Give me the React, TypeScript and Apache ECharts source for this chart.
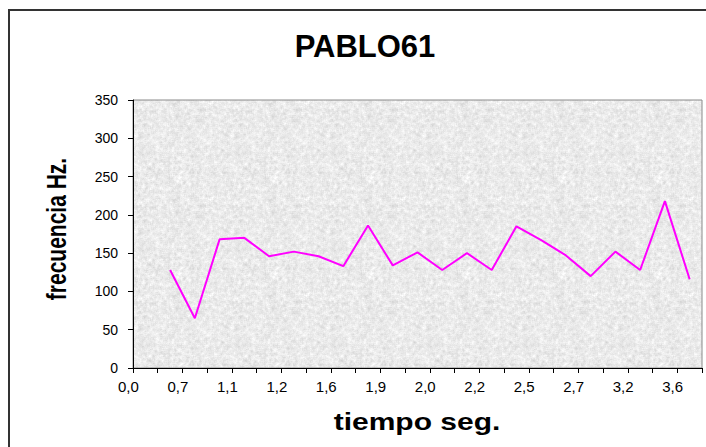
import React, { useEffect, useRef } from "react";
import * as echarts from "echarts";

// Category (time) labels; only every other one is shown on the axis
const categories: string[] = [
  "0,0", "0,5", "0,7", "0,9", "1,1", "1,1", "1,2", "1,4", "1,6", "1,7", "1,9", "1,9",
  "2,0", "2,1", "2,2", "2,4", "2,5", "2,6", "2,7", "2,9", "3,2", "3,4", "3,6",
];

// Frequency values (Hz) per category
const frecuencia: (number | null)[] = [
  null, 128, 65, 168, 170, 146, 152, 146, 133, 186, 134, 151,
  128, 150, 128, 185, 167, 147, 120, 152, 128, 218, 116,
];

const yMin = 0;
const yMax = 350;
const yStep = 50;

const chartTitle = "PABLO61";
const xTitle = "tiempo seg.";
const yTitle = "frecuencia Hz.";

// deterministic grain texture for the plot background (pure decoration)
function makeTexture(): string {
  const size = 96;
  const c = document.createElement("canvas");
  c.width = size;
  c.height = size;
  const ctx = c.getContext("2d");
  if (!ctx) return "";
  const img = ctx.createImageData(size, size);
  const h = (x: number, y: number) => {
    const xx = ((x % size) + size) % size;
    const yy = ((y % size) + size) % size;
    const s = Math.sin(xx * 12.9898 + yy * 78.233) * 43758.5453;
    return s - Math.floor(s);
  };
  for (let y = 0; y < size; y++) {
    for (let x = 0; x < size; x++) {
      let acc = 0;
      for (let dy = -1; dy <= 1; dy++)
        for (let dx = -1; dx <= 1; dx++) acc += h(x + dx, y + dy);
      acc /= 9;
      const v = Math.round(234 + (acc - 0.5) * 60 + (h(x * 3 + 7, y * 5 + 11) - 0.5) * 10);
      const i = (y * size + x) * 4;
      img.data[i] = v;
      img.data[i + 1] = v;
      img.data[i + 2] = v;
      img.data[i + 3] = 255;
    }
  }
  ctx.putImageData(img, 0, 0);
  return c.toDataURL();
}

const PLOT = { left: 133, top: 100, width: 569, height: 268 };

export default function App() {
  const ref = useRef<HTMLDivElement>(null);

  useEffect(() => {
    if (!ref.current) return;
    const chart = echarts.init(ref.current, undefined, { renderer: "svg" });
    const font = "Arial, 'Liberation Sans', Helvetica, sans-serif";
    const tex = makeTexture();
    chart.setOption({
      animation: false,
      backgroundColor: "#ffffff",
      textStyle: { fontFamily: font },
      graphic: [
        {
          type: "rect",
          shape: { x: PLOT.left, y: PLOT.top, width: PLOT.width, height: PLOT.height },
          style: {
            fill: tex ? { image: tex, repeat: "repeat" } : "#e9e9e9",
            stroke: "#8a8a8a",
            lineWidth: 1,
          },
          silent: true,
          z: 1,
        },
        {
          type: "rect",
          shape: { x: 9, y: 10, width: 720, height: 460 },
          style: { fill: "none", stroke: "#333", lineWidth: 2 },
          silent: true,
          z: 100,
        },
        {
          type: "text",
          x: 365,
          y: 46,
          style: {
            text: chartTitle,
            fontFamily: font,
            fontSize: 31,
            fontWeight: "bold",
            fill: "#000",
            align: "center",
            verticalAlign: "middle",
          },
          z: 100,
        },
        {
          type: "group",
          x: 417,
          y: 422,
          scaleX: 1.25,
          children: [
            {
              type: "text",
              style: {
                text: xTitle,
                x: 0,
                y: 0,
                fontFamily: font,
                fontSize: 24,
                fontWeight: "bold",
                fill: "#000",
                align: "center",
                verticalAlign: "middle",
              },
            },
          ],
          z: 100,
        },
        {
          type: "group",
          x: 56,
          y: 229,
          rotation: Math.PI / 2,
          children: [
            {
              type: "group",
              scaleY: 1.35,
              children: [
                {
                  type: "text",
                  style: {
                    text: yTitle,
                    x: 0,
                    y: 0,
                    fontFamily: font,
                    fontSize: 21,
                    fontWeight: "bold",
                    fill: "#000",
                    align: "center",
                    verticalAlign: "middle",
                  },
                },
              ],
            },
          ],
          z: 100,
        },
      ],
      grid: {
        left: PLOT.left,
        top: PLOT.top,
        width: PLOT.width,
        height: PLOT.height,
        show: false,
      },
      xAxis: {
        type: "category",
        data: categories,
        boundaryGap: true,
        z: 3,
        axisLine: { lineStyle: { color: "#000", width: 1 } },
        axisTick: { show: true, interval: 0, length: 5, lineStyle: { color: "#000" } },
        axisLabel: {
          interval: 1,
          fontFamily: font,
          fontSize: 15,
          color: "#000",
          margin: 11,
          padding: [0, 34, 0, 0],
        },
        splitLine: { show: false },
      },
      yAxis: {
        type: "value",
        min: yMin,
        max: yMax,
        interval: yStep,
        z: 3,
        axisLine: { show: true, lineStyle: { color: "#000", width: 1 } },
        axisTick: { show: true, length: 5, lineStyle: { color: "#000" } },
        axisLabel: { fontFamily: font, fontSize: 14, color: "#000", margin: 15 },
        splitLine: { show: false },
      },
      series: [
        {
          type: "line",
          data: frecuencia,
          symbol: "none",
          z: 2,
          connectNulls: false,
          lineStyle: { color: "#ff00ff", width: 2 },
          itemStyle: { color: "#ff00ff" },
        },
      ],
    });
    return () => chart.dispose();
  }, []);

  return (
    <div
      ref={ref}
      style={{ position: "fixed", left: 0, top: 0, width: 706, height: 447 }}
    />
  );
}
